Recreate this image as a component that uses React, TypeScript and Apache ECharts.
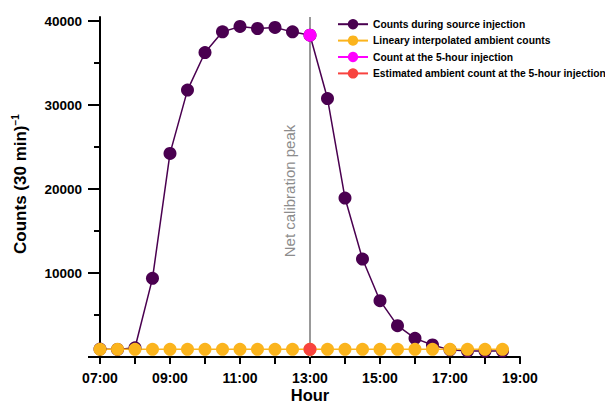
import React, { useEffect, useRef } from "react";
import * as echarts from "echarts";

const hours = [7, 7.5, 8, 8.5, 9, 9.5, 10, 10.5, 11, 11.5, 12, 12.5, 13, 13.5, 14, 14.5, 15, 15.5, 16, 16.5, 17, 17.5, 18, 18.5];
const sourceCounts = [950, 900, 1100, 9370, 24250, 31790, 36270, 38730, 39370, 39130, 39250, 38730, 38330, 30790, 18930, 11670, 6710, 3730, 2220, 1430, 850, 700, 700, 700];
const ambientCounts = [920, 920, 920, 920, 920, 920, 920, 920, 920, 920, 920, 920, 920, 920, 920, 920, 920, 920, 920, 920, 920, 920, 920, 920];
const injectionHour = 13;
const injectionCount = 38330;
const estimatedAmbient = 920;
const xLabelValues = [7, 9, 11, 13, 15, 17, 19];
const yMajorTicks = [0, 10000, 20000, 30000, 40000];
const yLabelValues = [10000, 20000, 30000, 40000];
const yMinorTicks = [5000, 15000, 25000, 35000];
const seriesNames = [
  "Counts during source injection",
  "Lineary interpolated ambient counts",
  "Count at the 5-hour injection",
  "Estimated ambient count at the 5-hour injection",
];

const PURPLE = "#4A0050";
const ORANGE = "#FBB41D";
const MAGENTA = "#FF00FF";
const RED = "#F8433F";

export default function App() {
  const ref = useRef<HTMLDivElement>(null);
  useEffect(() => {
    if (!ref.current) return;
    document.body.style.margin = "0";
    const chart = echarts.init(ref.current, null, { renderer: "svg" });
    const font = "Liberation Sans, Arial, sans-serif";
    const fmtHour = (v: number) => (v < 10 ? "0" + v : "" + v) + ":00";
    chart.setOption({
      animation: false,
      textStyle: { fontFamily: font },
      grid: { left: 100, right: 85, top: 17, bottom: 46, outerBoundsMode: "none", containLabel: false },
      legend: {
        orient: "vertical",
        left: 337,
        top: 19,
        padding: 0,
        itemWidth: 30,
        itemHeight: 13,
        itemGap: 6,
        textStyle: { fontFamily: font, fontSize: 10.3, fontWeight: "bold", color: "#000" },
        data: seriesNames,
      },
      xAxis: {
        type: "value",
        min: 7,
        max: 19,
        interval: 1,
        axisLine: { show: true, onZero: false, lineStyle: { color: "#000", width: 2 } },
        axisTick: { show: true, length: 7, lineStyle: { color: "#000", width: 2 } },
        axisLabel: {
          customValues: xLabelValues,
          formatter: (v: number) => fmtHour(v),
          fontFamily: font,
          fontSize: 14,
          fontWeight: "bold",
          color: "#000",
          margin: 14,
        },
        splitLine: { show: false },
      },
      yAxis: [
        {
          type: "value",
          min: 0,
          max: 40500,
          axisLine: { show: true, lineStyle: { color: "#000", width: 2 } },
          axisTick: { show: true, customValues: yMajorTicks, length: 12, lineStyle: { color: "#000", width: 2 } },
          axisLabel: {
            customValues: yLabelValues,
            formatter: (v: number) => String(v),
            fontFamily: font,
            fontSize: 13.5,
            fontWeight: "bold",
            color: "#000",
            margin: 18,
          },
          splitLine: { show: false },
        },
        {
          type: "value",
          min: 0,
          max: 40500,
          position: "left",
          axisLine: { show: false },
          axisTick: { show: true, customValues: yMinorTicks, length: 6, lineStyle: { color: "#000", width: 2 } },
          axisLabel: { show: false },
          splitLine: { show: false },
        },
      ],
      graphic: [
        {
          type: "text",
          x: 20,
          y: 184,
          rotation: Math.PI / 2,
          style: {
            text: "{a|Counts (30 min)}{b|−1}",
            align: "center",
            verticalAlign: "middle",
            rich: {
              a: { fontFamily: font, fontSize: 17, fontWeight: "bold", fill: "#000" },
              b: { fontFamily: font, fontSize: 10, fontWeight: "bold", fill: "#000", padding: [0, 0, 10, 0] },
            },
          },
        },
        {
          type: "text",
          x: 310,
          y: 395,
          style: {
            text: "Hour",
            align: "center",
            verticalAlign: "middle",
            fontFamily: font,
            fontSize: 16.5,
            fontWeight: "bold",
            fill: "#000",
          },
        },
        {
          type: "text",
          x: 289,
          y: 191,
          rotation: Math.PI / 2,
          style: {
            text: "Net calibration peak",
            align: "center",
            verticalAlign: "middle",
            fontFamily: font,
            fontSize: 15,
            fill: "#8C8C8C",
          },
        },
      ],
      series: [
        {
          name: seriesNames[0],
          type: "line",
          data: hours.map((h, i) => [h, sourceCounts[i]]),
          symbol: "circle",
          symbolSize: 13,
          showSymbol: true,
          clip: false,
          itemStyle: { color: PURPLE },
          lineStyle: { color: PURPLE, width: 1.5 },
        },
        {
          name: seriesNames[1],
          type: "line",
          data: hours.map((h, i) => [h, ambientCounts[i]]),
          symbol: "circle",
          symbolSize: 13,
          showSymbol: true,
          clip: false,
          itemStyle: { color: ORANGE },
          lineStyle: { color: ORANGE, width: 1.5 },
        },
        {
          name: seriesNames[2],
          type: "line",
          data: [[injectionHour, injectionCount]],
          symbol: "circle",
          symbolSize: 13,
          clip: false,
          itemStyle: { color: MAGENTA },
          lineStyle: { color: MAGENTA, width: 1.5 },
          z: 5,
          markLine: {
            silent: true,
            symbol: "none",
            label: { show: false },
            lineStyle: { color: "#999", width: 2, type: "solid" },
            data: [{ xAxis: injectionHour }],
            z: 1,
          },
        },
        {
          name: seriesNames[3],
          type: "line",
          data: [[injectionHour, estimatedAmbient]],
          symbol: "circle",
          symbolSize: 13,
          clip: false,
          itemStyle: { color: RED },
          lineStyle: { color: RED, width: 1.5 },
          z: 5,
        },
      ],
    });
    return () => chart.dispose();
  }, []);
  return <div ref={ref} style={{ width: 605, height: 403 }} />;
}
